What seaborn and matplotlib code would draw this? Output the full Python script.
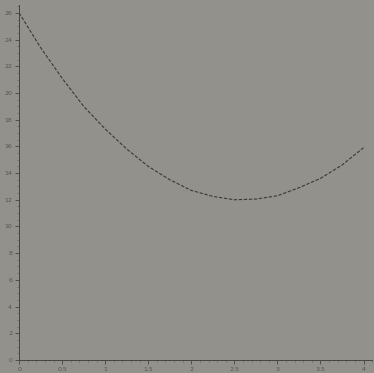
import matplotlib
matplotlib.use("Agg")
import matplotlib.pyplot as plt
import seaborn as sns
import pandas as pd
from matplotlib.ticker import MultipleLocator

x_values = [0, 0.25, 0.5, 0.75, 1.0, 1.25, 1.5, 1.75, 2.0, 2.25, 2.5, 2.75, 3.0, 3.25, 3.5, 3.75, 4.0]
y_values = [26.0, 23.4, 21.1, 19.0, 17.3, 15.8, 14.5, 13.5, 12.7, 12.25, 12.0, 12.05, 12.3, 12.9, 13.6, 14.6, 15.9]
x_ticks = [0, 0.5, 1, 1.5, 2, 2.5, 3, 3.5, 4]
x_tick_labels = ["0", "0.5", "1", "1.5", "2", "2.5", "3", "3.5", "4"]
y_ticks = list(range(0, 27, 2))

df = pd.DataFrame({"x": x_values, "y": y_values})

sns.set_theme(style="ticks")
plt.rcParams['font.family'] = ['DejaVu Sans']
bg = "#92918c"
fig = plt.figure(figsize=(3.74, 3.73), dpi=100, facecolor=bg)
ax = fig.add_axes([0.051, 0.035, 0.944, 0.952])
ax.set_facecolor(bg)

sns.lineplot(data=df, x="x", y="y", ax=ax, color="#3a3936", linewidth=0.8,
             linestyle=(0, (3, 1.5)))

ax.set_xlim(0, 4.1)
ax.set_ylim(0, 26.6)
ax.set_xticks(x_ticks)
ax.set_xticklabels(x_tick_labels)
ax.set_yticks(y_ticks)
ax.xaxis.set_minor_locator(MultipleLocator(0.1))
ax.yaxis.set_minor_locator(MultipleLocator(0.5))
ax.tick_params(axis="both", which="major", labelsize=4.5, labelcolor="#55554f",
               color="#444440", length=3, width=0.6, pad=2)
ax.tick_params(axis="both", which="minor", color="#5a5a55", length=1.5, width=0.4)
for s in ["top", "right"]:
    ax.spines[s].set_visible(False)
for s in ["left", "bottom"]:
    ax.spines[s].set_color("#444440")
    ax.spines[s].set_linewidth(0.7)
ax.set_xlabel("")
ax.set_ylabel("")

fig.savefig("out.png", dpi=100, facecolor=bg)
